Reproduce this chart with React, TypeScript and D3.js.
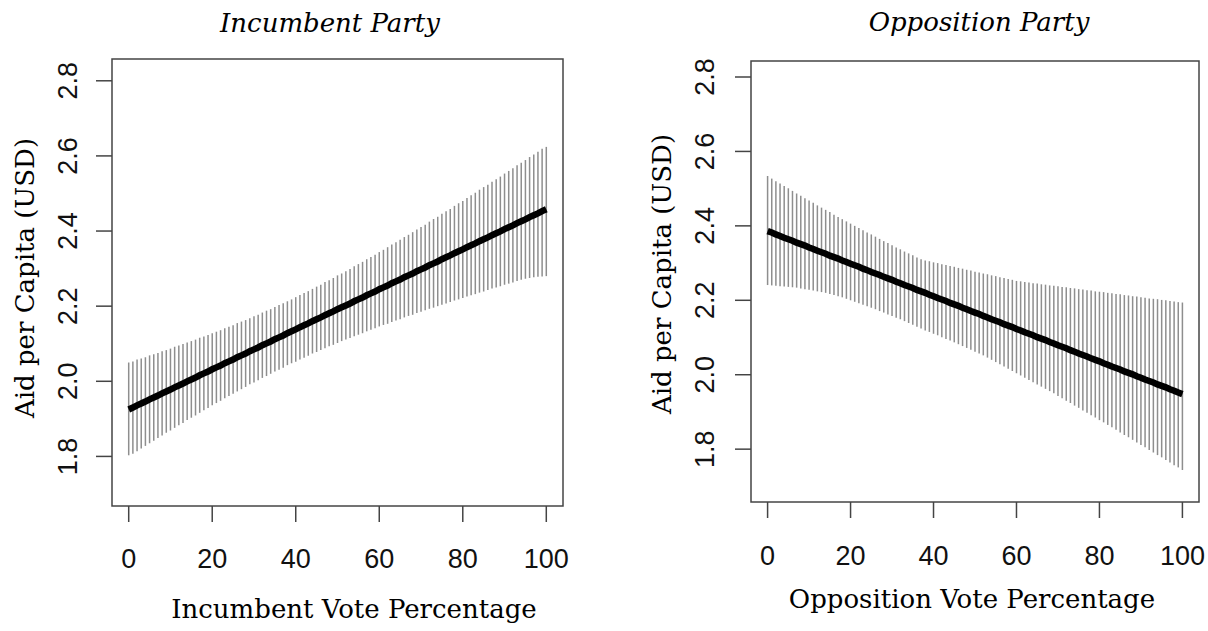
import React from 'react';
import * as d3 from 'd3';

// vote share (x) shared by both panels
const votePct = [
  0, 1, 2, 3, 4, 5, 6, 7, 8, 9, 10, 11, 12, 13, 14, 15, 16, 17, 18, 19, 20,
  21, 22, 23, 24, 25, 26, 27, 28, 29, 30, 31, 32, 33, 34, 35, 36, 37, 38, 39, 40,
  41, 42, 43, 44, 45, 46, 47, 48, 49, 50, 51, 52, 53, 54, 55, 56, 57, 58, 59, 60,
  61, 62, 63, 64, 65, 66, 67, 68, 69, 70, 71, 72, 73, 74, 75, 76, 77, 78, 79, 80,
  81, 82, 83, 84, 85, 86, 87, 88, 89, 90, 91, 92, 93, 94, 95, 96, 97, 98, 99, 100,
];

// Incumbent party: predicted aid and interval
const incFit = [
  1.925, 1.930, 1.936, 1.941, 1.946, 1.952, 1.957, 1.962, 1.968, 1.973, 1.978,
  1.984, 1.989, 1.994, 2.000, 2.005, 2.010, 2.016, 2.021, 2.026, 2.032,
  2.037, 2.042, 2.048, 2.053, 2.058, 2.064, 2.069, 2.074, 2.080, 2.085,
  2.090, 2.096, 2.101, 2.106, 2.112, 2.117, 2.122, 2.128, 2.133, 2.138,
  2.144, 2.149, 2.154, 2.160, 2.165, 2.170, 2.176, 2.181, 2.186, 2.192,
  2.197, 2.202, 2.207, 2.213, 2.218, 2.223, 2.229, 2.234, 2.239, 2.245,
  2.250, 2.255, 2.261, 2.266, 2.271, 2.277, 2.282, 2.287, 2.293, 2.298,
  2.303, 2.309, 2.314, 2.319, 2.325, 2.330, 2.335, 2.341, 2.346, 2.351,
  2.357, 2.362, 2.367, 2.373, 2.378, 2.383, 2.389, 2.394, 2.399, 2.405,
  2.410, 2.415, 2.421, 2.426, 2.431, 2.437, 2.442, 2.447, 2.453, 2.458,
];
const incUpper = [
  2.050, 2.053, 2.058, 2.061, 2.064, 2.069, 2.072, 2.075, 2.080, 2.083, 2.087,
  2.092, 2.095, 2.099, 2.103, 2.107, 2.111, 2.116, 2.119, 2.123, 2.128,
  2.132, 2.136, 2.141, 2.145, 2.149, 2.155, 2.159, 2.163, 2.168, 2.173,
  2.177, 2.183, 2.188, 2.192, 2.198, 2.203, 2.208, 2.213, 2.218, 2.224,
  2.230, 2.235, 2.240, 2.246, 2.252, 2.257, 2.264, 2.269, 2.275, 2.282,
  2.287, 2.293, 2.299, 2.306, 2.312, 2.318, 2.325, 2.331, 2.337, 2.344,
  2.350, 2.357, 2.364, 2.370, 2.377, 2.384, 2.390, 2.397, 2.404, 2.411,
  2.417, 2.425, 2.432, 2.438, 2.446, 2.453, 2.459, 2.467, 2.474, 2.480,
  2.488, 2.495, 2.502, 2.510, 2.517, 2.523, 2.531, 2.538, 2.545, 2.553,
  2.560, 2.567, 2.575, 2.582, 2.589, 2.597, 2.604, 2.611, 2.619, 2.624,
];
const incLower = [
  1.803, 1.807, 1.814, 1.821, 1.828, 1.835, 1.842, 1.849, 1.856, 1.863, 1.869,
  1.876, 1.883, 1.889, 1.897, 1.903, 1.909, 1.916, 1.923, 1.929, 1.936,
  1.942, 1.948, 1.955, 1.961, 1.967, 1.973, 1.979, 1.985, 1.992, 1.997,
  2.003, 2.009, 2.014, 2.020, 2.026, 2.031, 2.036, 2.043, 2.048, 2.052,
  2.058, 2.063, 2.068, 2.074, 2.078, 2.083, 2.088, 2.093, 2.097, 2.102,
  2.107, 2.111, 2.115, 2.120, 2.124, 2.128, 2.133, 2.137, 2.141, 2.146,
  2.150, 2.153, 2.158, 2.162, 2.165, 2.170, 2.174, 2.177, 2.182, 2.185,
  2.189, 2.193, 2.196, 2.200, 2.204, 2.207, 2.211, 2.215, 2.218, 2.222,
  2.226, 2.229, 2.232, 2.236, 2.239, 2.243, 2.247, 2.250, 2.253, 2.257,
  2.260, 2.263, 2.267, 2.270, 2.273, 2.275, 2.277, 2.278, 2.279, 2.280,
];

// Opposition party: predicted aid and interval
const oppFit = [
  2.386, 2.382, 2.377, 2.373, 2.368, 2.364, 2.360, 2.355, 2.351, 2.347, 2.342,
  2.338, 2.333, 2.329, 2.325, 2.320, 2.316, 2.312, 2.307, 2.303, 2.298,
  2.294, 2.290, 2.285, 2.281, 2.276, 2.272, 2.268, 2.263, 2.259, 2.255,
  2.250, 2.246, 2.241, 2.237, 2.233, 2.228, 2.224, 2.220, 2.215, 2.211,
  2.206, 2.202, 2.198, 2.193, 2.189, 2.185, 2.180, 2.176, 2.171, 2.167,
  2.163, 2.158, 2.154, 2.149, 2.145, 2.141, 2.136, 2.132, 2.128, 2.123,
  2.119, 2.114, 2.110, 2.106, 2.101, 2.097, 2.093, 2.088, 2.084, 2.079,
  2.075, 2.071, 2.066, 2.062, 2.057, 2.053, 2.049, 2.044, 2.040, 2.036,
  2.031, 2.027, 2.022, 2.018, 2.014, 2.009, 2.005, 2.001, 1.996, 1.992,
  1.987, 1.983, 1.979, 1.974, 1.970, 1.966, 1.961, 1.957, 1.952, 1.948,
];
const oppUpper = [
  2.534, 2.527, 2.520, 2.514, 2.507, 2.501, 2.494, 2.487, 2.481, 2.474, 2.468,
  2.462, 2.455, 2.449, 2.443, 2.437, 2.430, 2.424, 2.418, 2.412, 2.406,
  2.400, 2.394, 2.388, 2.382, 2.377, 2.371, 2.365, 2.359, 2.354, 2.348,
  2.342, 2.337, 2.331, 2.326, 2.321, 2.315, 2.310, 2.307, 2.305, 2.302,
  2.300, 2.297, 2.295, 2.292, 2.290, 2.287, 2.285, 2.282, 2.280, 2.277,
  2.275, 2.272, 2.270, 2.267, 2.265, 2.262, 2.260, 2.257, 2.255, 2.252,
  2.251, 2.249, 2.248, 2.246, 2.245, 2.243, 2.242, 2.240, 2.239, 2.238,
  2.236, 2.235, 2.233, 2.232, 2.230, 2.229, 2.227, 2.226, 2.224, 2.223,
  2.222, 2.220, 2.219, 2.217, 2.216, 2.214, 2.213, 2.211, 2.210, 2.208,
  2.207, 2.205, 2.204, 2.203, 2.201, 2.200, 2.198, 2.197, 2.195, 2.194,
];
const oppLower = [
  2.241, 2.240, 2.239, 2.238, 2.237, 2.236, 2.235, 2.234, 2.232, 2.230, 2.228,
  2.226, 2.224, 2.222, 2.220, 2.217, 2.214, 2.211, 2.208, 2.204, 2.200,
  2.196, 2.192, 2.188, 2.184, 2.180, 2.176, 2.171, 2.167, 2.162, 2.158,
  2.153, 2.149, 2.144, 2.139, 2.134, 2.129, 2.124, 2.119, 2.115, 2.110,
  2.106, 2.101, 2.096, 2.092, 2.087, 2.082, 2.077, 2.072, 2.067, 2.062,
  2.057, 2.052, 2.046, 2.040, 2.034, 2.028, 2.022, 2.016, 2.010, 2.004,
  1.998, 1.992, 1.986, 1.980, 1.974, 1.968, 1.962, 1.956, 1.950, 1.943,
  1.937, 1.930, 1.924, 1.917, 1.911, 1.904, 1.898, 1.891, 1.885, 1.878,
  1.872, 1.865, 1.859, 1.852, 1.845, 1.838, 1.832, 1.825, 1.818, 1.811,
  1.805, 1.798, 1.791, 1.784, 1.778, 1.771, 1.764, 1.757, 1.751, 1.744,
];

const xTicks = [0, 20, 40, 60, 80, 100];
const yTicks = [1.8, 2.0, 2.2, 2.4, 2.6, 2.8];

const SANS = '"Liberation Sans", Arial, sans-serif';
const SERIF = '"DejaVu Serif", serif';
const TICK = 16;

function Panel({ fit, lower, upper, box, yDomain, title, titleX, titleY, xLabel, xLabelX, xLabelY,
  yLabelX, yLabelY, tickLabelY, yTickLabelX }) {
  const x = d3.scaleLinear().domain([-4, 104]).range([box.left, box.right]);
  const y = d3.scaleLinear().domain(yDomain).range([box.bottom, box.top]);
  const line = d3.line<number>()
    .x((d, i) => x(votePct[i]))
    .y(d => y(d));

  return (
    <g>
      {/* interval bars */}
      {votePct.map((v, i) => (
        <line key={i} x1={x(v)} x2={x(v)} y1={y(lower[i])} y2={y(upper[i])}
          stroke="#8e8e8e" strokeWidth={1.5} />
      ))}
      <path d={line(fit) || ''} fill="none" stroke="#000" strokeWidth={6.5} />

      <rect x={box.left} y={box.top} width={box.right - box.left} height={box.bottom - box.top}
        fill="none" stroke="#444" strokeWidth={1.5} />

      {xTicks.map(t => (
        <g key={t}>
          <line x1={x(t)} x2={x(t)} y1={box.bottom} y2={box.bottom + TICK} stroke="#444" strokeWidth={1.5} />
          <text x={x(t)} y={tickLabelY} textAnchor="middle" fontFamily={SANS} fontSize={27} fill="#111">{t}</text>
        </g>
      ))}
      {yTicks.map(t => (
        <g key={t}>
          <line x1={box.left - TICK} x2={box.left} y1={y(t)} y2={y(t)} stroke="#444" strokeWidth={1.5} />
          <text transform={`translate(${yTickLabelX},${y(t)}) rotate(-90)`} textAnchor="middle"
            fontFamily={SANS} fontSize={27} fill="#111">{t.toFixed(1)}</text>
        </g>
      ))}

      <text x={titleX} y={titleY} textAnchor="middle" fontFamily={SERIF} fontStyle="italic" fontSize={26} fill="#000">{title}</text>
      <text x={xLabelX} y={xLabelY} textAnchor="middle" fontFamily={SERIF} fontSize={26} fill="#000">{xLabel}</text>
      <text transform={`translate(${yLabelX},${yLabelY}) rotate(-90)`} textAnchor="middle"
        fontFamily={SERIF} fontSize={26} fill="#000">Aid per Capita (USD)</text>
    </g>
  );
}

export default function App() {
  return (
    <svg width={1208} height={631} style={{ position: 'absolute', left: 0, top: 0, background: '#fff' }}>
      <Panel fit={incFit} lower={incLower} upper={incUpper}
        box={{ left: 112, right: 563, top: 59, bottom: 506 }} yDomain={[1.668, 2.858]}
        title="Incumbent Party" titleX={330} titleY={32}
        xLabel="Incumbent Vote Percentage" xLabelX={354} xLabelY={618}
        yLabelX={34} yLabelY={278} tickLabelY={568} yTickLabelX={77} />
      <Panel fit={oppFit} lower={oppLower} upper={oppUpper}
        box={{ left: 751, right: 1199, top: 61, bottom: 502 }} yDomain={[1.658, 2.843]}
        title="Opposition Party" titleX={979} titleY={31}
        xLabel="Opposition Vote Percentage" xLabelX={972} xLabelY={608}
        yLabelX={671} yLabelY={274} tickLabelY={565} yTickLabelX={714} />
    </svg>
  );
}
